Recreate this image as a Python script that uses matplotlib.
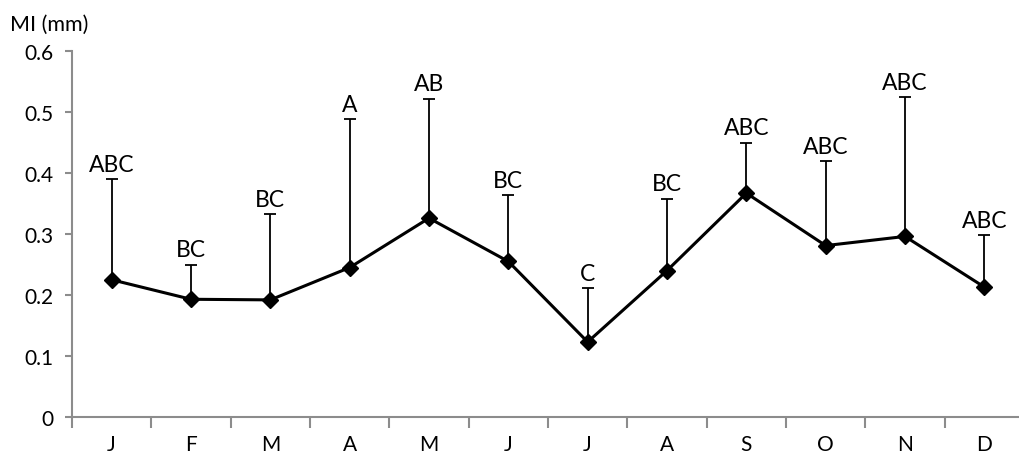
import numpy as np
import matplotlib.pyplot as plt

# Dados
meses = ['J', 'F', 'M', 'A', 'M', 'J', 'J', 'A', 'S', 'O', 'N', 'D']
mi_media = [0.225, 0.193, 0.192, 0.245, 0.326, 0.255,
            0.123, 0.240, 0.367, 0.281, 0.296, 0.213]
mi_topo_erro = [0.390, 0.250, 0.333, 0.488, 0.522, 0.364,
                0.212, 0.358, 0.450, 0.419, 0.525, 0.298]
letras = ['ABC', 'BC', 'BC', 'A', 'AB', 'BC',
          'C', 'BC', 'ABC', 'ABC', 'ABC', 'ABC']

plt.rcParams['font.family'] = ['Lato', 'DejaVu Sans']

x = np.arange(len(meses))
media = np.array(mi_media)
erro_sup = np.array(mi_topo_erro) - media

fig = plt.figure(figsize=(10.19, 4.56), dpi=100)
ax = fig.add_axes([72 / 1019, 38 / 456, 952 / 1019, 366 / 456])

ax.errorbar(x, media, yerr=[np.zeros_like(media), erro_sup], fmt='none',
            ecolor='black', elinewidth=1.3, capsize=4, capthick=1.3)
ax.plot(x, media, color='black', linewidth=2.2, marker='D',
        markersize=8, zorder=3)

for xi, topo, txt in zip(x, mi_topo_erro, letras):
    ax.annotate(txt, (xi, topo), xytext=(0, 3), textcoords='offset points',
                ha='center', va='bottom', fontsize=16.5)

ax.set_xlim(-0.5, len(meses) - 0.5)
ax.set_ylim(0, 0.6)
ax.set_yticks(np.arange(0, 0.61, 0.1))
ax.set_yticklabels(['0', '0.1', '0.2', '0.3', '0.4', '0.5', '0.6'])
ax.set_xticks(x)
ax.set_xticklabels(meses)
ax.set_xticks(np.arange(-0.5, len(meses), 1), minor=True)

cinza = '#8c8c8c'
for lado in ['top', 'right']:
    ax.spines[lado].set_visible(False)
for lado in ['left', 'bottom']:
    ax.spines[lado].set_color(cinza)
    ax.spines[lado].set_linewidth(1.5)

ax.tick_params(axis='y', length=5, width=1.5, color=cinza,
               labelsize=15, pad=8)
ax.tick_params(axis='x', which='major', length=0, labelsize=15, pad=12)
ax.tick_params(axis='x', which='minor', length=8, width=1.5, color=cinza,
               direction='out')

fig.text(10 / 1019, 1 - 31 / 456, 'MI (mm)', fontsize=15.5, va='baseline')

fig.savefig('out.png', dpi=100)
